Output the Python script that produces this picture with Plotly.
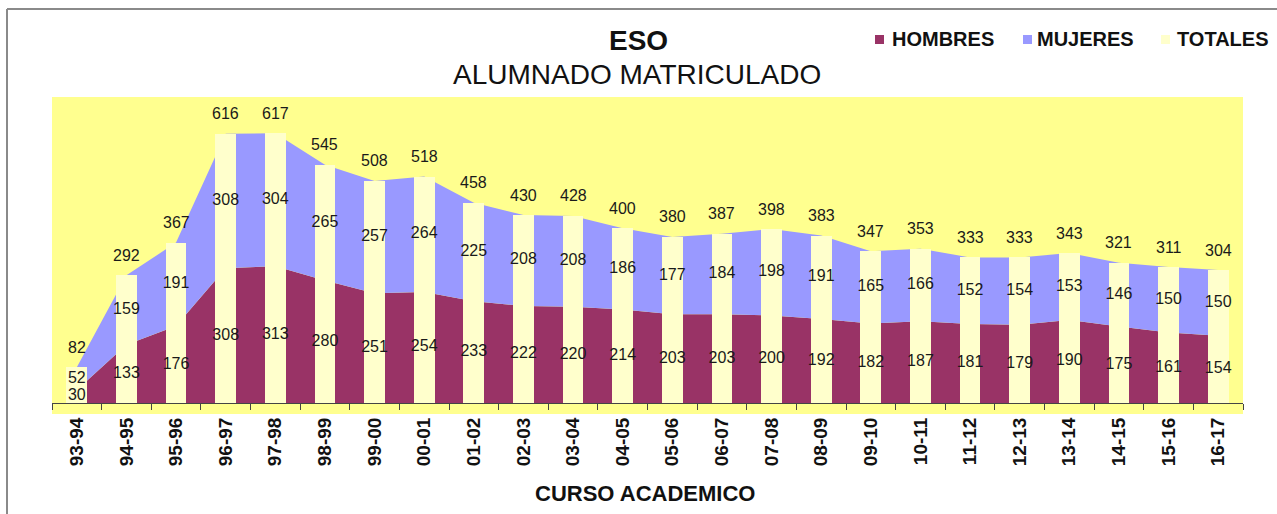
import plotly.graph_objects as go

cursos = ["93-94", "94-95", "95-96", "96-97", "97-98", "98-99", "99-00", "00-01",
          "01-02", "02-03", "03-04", "04-05", "05-06", "06-07", "07-08", "08-09",
          "09-10", "10-11", "11-12", "12-13", "13-14", "14-15", "15-16", "16-17"]
hombres = [30, 133, 176, 308, 313, 280, 251, 254, 233, 222, 220, 214,
           203, 203, 200, 192, 182, 187, 181, 179, 190, 175, 161, 154]
mujeres = [52, 159, 191, 308, 304, 265, 257, 264, 225, 208, 208, 186,
           177, 184, 198, 191, 165, 166, 152, 154, 153, 146, 150, 150]
totales = [82, 292, 367, 616, 617, 545, 508, 518, 458, 430, 428, 400,
           380, 387, 398, 383, 347, 353, 333, 333, 343, 321, 311, 304]

C_H = "#993366"
C_M = "#9999FF"
C_T = "#FFFFCC"
C_BG = "#FFFF8F"
FONT = "Liberation Sans, Arial, sans-serif"

# pixel geometry helpers (figure is 1277 x 514)
L, R, T, B = 52, 1243, 97, 403
PW, PH = R - L, B - T
def px(x):
    return (x - L) / PW
def py(y):
    return (B - y) / PH

fig = go.Figure()

# stacked areas (base axes)
fig.add_trace(go.Scatter(x=cursos, y=hombres, stackgroup="a", mode="none",
                         fillcolor=C_H, name="HOMBRES", showlegend=False,
                         xaxis="x", yaxis="y"))
fig.add_trace(go.Scatter(x=cursos, y=mujeres, stackgroup="a", mode="none",
                         fillcolor=C_M, name="MUJERES", showlegend=False,
                         xaxis="x", yaxis="y"))

# total bars on overlay axes (drawn above the areas)
fig.add_trace(go.Bar(x=cursos, y=totales, width=0.42, marker_color=C_T,
                     marker_line_width=0, name="TOTALES", showlegend=False,
                     xaxis="x2", yaxis="y2"))

# value labels
fig.add_trace(go.Scatter(x=cursos, y=[h / 2 for h in hombres], mode="text",
                         text=[str(v) for v in hombres], textposition="middle center",
                         textfont=dict(family=FONT, size=16, color="#1a1a1a"),
                         showlegend=False, hoverinfo="skip", xaxis="x2", yaxis="y2"))
fig.add_trace(go.Scatter(x=cursos, y=[h + m / 2 for h, m in zip(hombres, mujeres)],
                         mode="text", text=[str(v) for v in mujeres],
                         textposition="middle center",
                         textfont=dict(family=FONT, size=16, color="#1a1a1a"),
                         showlegend=False, hoverinfo="skip", xaxis="x2", yaxis="y2"))

annotations = []
for c, t in zip(cursos, totales):
    annotations.append(dict(x=c, y=t, xref="x2", yref="y2", text=str(t),
                            showarrow=False, yshift=20, yanchor="middle",
                            font=dict(family=FONT, size=16, color="#1a1a1a")))

# titles
annotations.append(dict(x=px(638), y=py(41), xref="paper", yref="paper", text="<b>ESO</b>",
                        showarrow=False, xanchor="center", yanchor="middle",
                        font=dict(family=FONT, size=28, color="#111")))
annotations.append(dict(x=px(637), y=py(74), xref="paper", yref="paper",
                        text="ALUMNADO MATRICULADO", showarrow=False,
                        xanchor="center", yanchor="middle",
                        font=dict(family=FONT, size=28, color="#111")))
annotations.append(dict(x=px(645), y=py(493), xref="paper", yref="paper",
                        text="<b>CURSO ACADEMICO</b>", showarrow=False,
                        xanchor="center", yanchor="middle",
                        font=dict(family=FONT, size=22, color="#111")))

# legend (text + small squares)
legend_items = [("HOMBRES", C_H, 875, 890), ("MUJERES", C_M, 1023, 1035),
                ("TOTALES", C_T, 1161, 1175)]
shapes = []
for name, col, sx, tx in legend_items:
    annotations.append(dict(x=px(tx), y=py(39), xref="paper", yref="paper",
                            text="<b>" + name + "</b>", showarrow=False,
                            xanchor="left", yanchor="middle",
                            font=dict(family=FONT, size=20, color="#111")))
    shapes.append(dict(type="rect", xref="paper", yref="paper",
                       x0=px(sx), x1=px(sx + 9), y0=py(44), y1=py(35),
                       fillcolor=col, line_width=0))

# plot area background and chart frame
shapes.append(dict(type="rect", xref="paper", yref="paper", layer="below",
                   x0=px(L), x1=px(R), y0=py(414), y1=py(T),
                   fillcolor=C_BG, line_width=0))
shapes.append(dict(type="line", xref="paper", yref="paper",
                   x0=px(7), x1=px(1290), y0=py(9), y1=py(9),
                   line=dict(color="#8a8a8a", width=2)))
shapes.append(dict(type="line", xref="paper", yref="paper",
                   x0=px(7), x1=px(7), y0=py(9), y1=py(520),
                   line=dict(color="#8a8a8a", width=2)))

fig.update_layout(
    width=1277, height=514,
    margin=dict(l=L, r=1277 - R, t=T, b=514 - B, pad=0),
    paper_bgcolor="white",
    plot_bgcolor="rgba(0,0,0,0)",
    showlegend=False,
    bargap=0,
    annotations=annotations,
    shapes=shapes,
    xaxis=dict(type="category", categoryorder="array", categoryarray=cursos,
               range=[-0.5, len(cursos) - 0.5], showgrid=False, zeroline=False,
               showline=True, linecolor="#444", linewidth=1,
               ticks="outside", tickson="boundaries", ticklen=6, tickcolor="#444",
               tickangle=-90, ticklabelstandoff=6,
               tickfont=dict(family=FONT, size=19, color="#111", weight="bold")),
    yaxis=dict(range=[0, 700], visible=False, showgrid=False, zeroline=False),
    xaxis2=dict(type="category", categoryorder="array", categoryarray=cursos,
                range=[-0.5, len(cursos) - 0.5], overlaying="x", visible=False),
    yaxis2=dict(range=[0, 700], overlaying="y", visible=False),
)

fig.write_html("out.html")
